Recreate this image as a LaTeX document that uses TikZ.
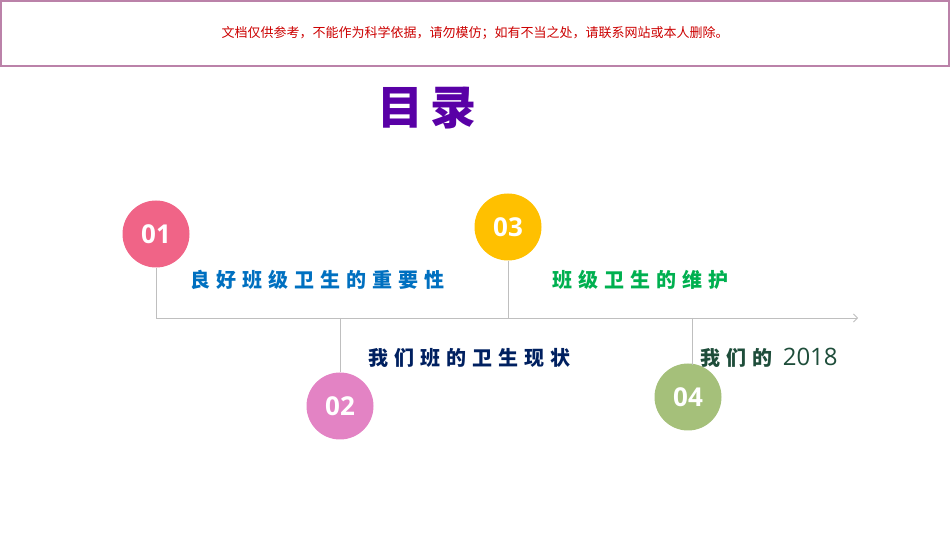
\documentclass[tikz,border=0pt]{standalone}
\usepackage{fontspec}
\setmainfont{Liberation Sans}
\newfontfamily\cjk{Noto Sans CJK SC}
\newfontfamily\cjkb[LetterSpace=30]{Noto Sans CJK SC}
\newfontfamily\numf{Open Sans}
\usetikzlibrary{arrows.meta}
\definecolor{c1}{HTML}{F06487}
\definecolor{c2}{HTML}{E383C4}
\definecolor{c3}{HTML}{FFC000}
\definecolor{c4}{HTML}{A5C07A}
\definecolor{t1}{HTML}{0070C0}
\definecolor{t2}{HTML}{002060}
\definecolor{t3}{HTML}{00B050}
\definecolor{t4}{HTML}{1E4D3A}
\definecolor{ln}{HTML}{BFBFBF}
\tikzset{x=1pt,y=1pt,
 dot/.style={circle,minimum size=67pt,inner sep=0pt,text=white,font=\numf\bfseries\fontsize{26}{26}\selectfont},
 item/.style={anchor=west,inner sep=0pt,font=\cjkb\bfseries\fontsize{20}{20}\selectfont},
 tick/.style={draw=ln,line width=0.8pt}}
\begin{document}
\begin{tikzpicture}
\useasboundingbox (0,0) rectangle (950,535);
\draw[draw=c2!60!gray,line width=1.5pt,fill=white] (1,469) rectangle (949,534);
\node (note) at (475,502) {\cjk\color{red!80!black}\fontsize{13}{13}\selectfont 文档仅供参考，不能作为科学依据，请勿模仿；如有不当之处，请联系网站或本人删除。};
\node (title) at (427,427) {\cjk\bfseries\color{violet!70!blue}\fontsize{46}{46}\selectfont 目\,录};
\coordinate (a0) at (156,217);
\coordinate (a1) at (858,217);
\draw[tick,-{Straight Barb[length=4pt]}] (a0) -- (a1);
\node[dot,fill=c1] (n1) at (156,301) {01};
\node[dot,fill=c3] (n3) at (508,308) {03};
\node[dot,fill=c2] (n2) at (340,129) {02};
\node[dot,fill=c4] (n4) at (688,138) {04};
\coordinate (b2) at (340,217);
\coordinate (b3) at (508,217);
\coordinate (b4) at (692,217);
\coordinate (e4) at (692,170);
\draw[tick] (n1.south) -- (a0);
\draw[tick] (n3.south) -- (b3);
\draw[tick] (b2) -- (n2.north);
\draw[tick] (b4) -- (e4);
\node[item,text=t1] (l1) at (190,255) {良好班级卫生的重要性};
\node[item,text=t3] (l3) at (552,255) {班级卫生的维护};
\node[item,text=t2] (l2) at (368,177) {我们班的卫生现状};
\node[item,text=t4] (l4) at (700,177) {我们的 {\numf\mdseries\fontsize{24}{24}\selectfont 2018}};
\end{tikzpicture}
\end{document}
